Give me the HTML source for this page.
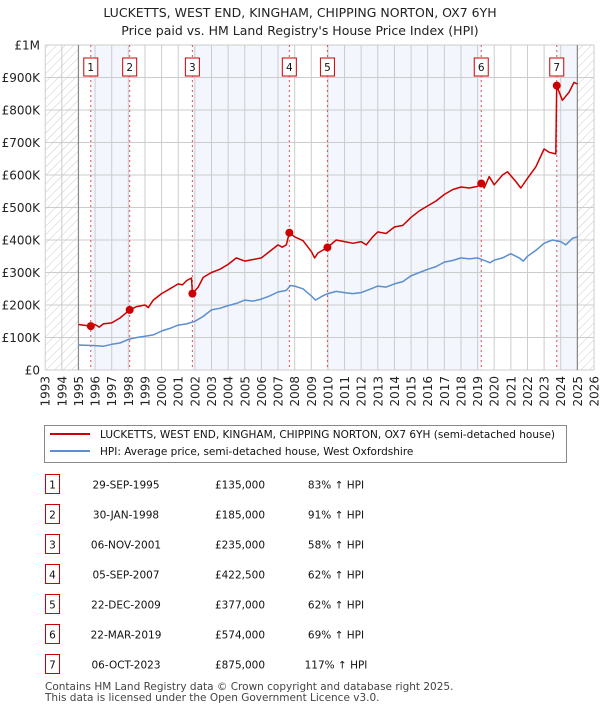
<!DOCTYPE html>
<html><head><meta charset="utf-8"><style>
body{margin:0;background:#fff;}
svg text{font-family:"DejaVu Sans","Liberation Sans",sans-serif;}
</style></head><body>
<svg id="c" width="600" height="710" viewBox="0 0 600 710" xmlns="http://www.w3.org/2000/svg">
<defs>
<pattern id="hatch" width="6" height="6" patternUnits="userSpaceOnUse" patternTransform="rotate(45)">
<line x1="0" y1="0" x2="0" y2="6" stroke="#ccc" stroke-width="1"/></pattern>
</defs>
<text x="300" y="17" text-anchor="middle" font-size="12.5" fill="#222">LUCKETTS, WEST END, KINGHAM, CHIPPING NORTON, OX7 6YH</text>
<text x="300" y="35" text-anchor="middle" font-size="12.5" fill="#222">Price paid vs. HM Land Registry's House Price Index (HPI)</text>
<g id="plot"></g>
<g id="legend">
<rect x="44.5" y="425.5" width="522" height="37" fill="#fff" stroke="#888"/>
<line x1="50" y1="434" x2="90" y2="434" stroke="#cc0000" stroke-width="2"/>
<text x="100" y="438" font-size="10.5" fill="#111">LUCKETTS, WEST END, KINGHAM, CHIPPING NORTON, OX7 6YH (semi-detached house)</text>
<line x1="50" y1="451" x2="90" y2="451" stroke="#5b8fd0" stroke-width="2"/>
<text x="100" y="455" font-size="10.5" fill="#111">HPI: Average price, semi-detached house, West Oxfordshire</text>
</g>
<g id="table"></g>
<text x="45" y="690" font-size="10.5" fill="#444">Contains HM Land Registry data © Crown copyright and database right 2025.</text>
<text x="45" y="701" font-size="10.5" fill="#444">This data is licensed under the Open Government Licence v3.0.</text>
</svg>
<script>
const yearTicks=[1993,1994,1995,1996,1997,1998,1999,2000,2001,2002,2003,2004,2005,2006,2007,2008,2009,2010,2011,2012,2013,2014,2015,2016,2017,2018,2019,2020,2021,2022,2023,2024,2025,2026];
const valueTicks=[0,100,200,300,400,500,600,700,800,900,1000];
const valueTickLabels=["£0","£100K","£200K","£300K","£400K","£500K","£600K","£700K","£800K","£900K","£1M"];
const saleLabels=["1","2","3","4","5","6","7"];
const saleYears=[1995.74,1998.08,2001.85,2007.68,2009.97,2019.22,2023.76];
const saleValues=[135,185,235,422.5,377,574,875];
const saleDates=["29-SEP-1995","30-JAN-1998","06-NOV-2001","05-SEP-2007","22-DEC-2009","22-MAR-2019","06-OCT-2023"];
const salePrices=["£135,000","£185,000","£235,000","£422,500","£377,000","£574,000","£875,000"];
const saleHpi=["83% ↑ HPI","91% ↑ HPI","58% ↑ HPI","62% ↑ HPI","62% ↑ HPI","69% ↑ HPI","117% ↑ HPI"];
const hpiYears=[1995,1996,1996.5,1997,1997.5,1998,1998.5,1999,1999.5,2000,2000.5,2001,2001.5,2002,2002.5,2003,2003.5,2004,2004.5,2005,2005.5,2006,2006.5,2007,2007.5,2007.75,2008,2008.5,2009,2009.25,2009.75,2010,2010.5,2011,2011.5,2012,2012.5,2013,2013.5,2014,2014.5,2015,2015.5,2016,2016.5,2017,2017.5,2018,2018.5,2019,2019.5,2019.75,2020,2020.5,2021,2021.5,2021.75,2022,2022.5,2023,2023.5,2024,2024.3,2024.7,2025];
const hpiValues=[77,75,73,79,83,94,100,104,108,120,128,138,142,150,165,185,190,198,205,215,212,218,228,240,245,260,258,250,228,215,230,235,242,238,235,238,248,258,255,265,272,290,300,310,318,332,337,345,342,345,335,330,338,345,358,345,335,350,368,390,400,395,385,405,410];
const priceYears=[1995,1995.74,1996,1996.25,1996.5,1997,1997.5,1998.08,1998.5,1999,1999.2,1999.5,2000,2000.5,2001,2001.25,2001.5,2001.8,2001.85,2002.2,2002.5,2003,2003.5,2004,2004.5,2005,2005.5,2006,2006.5,2007,2007.25,2007.5,2007.68,2008,2008.5,2009,2009.2,2009.4,2009.97,2010.5,2011,2011.5,2012,2012.3,2012.7,2013,2013.5,2014,2014.5,2015,2015.5,2016,2016.5,2017,2017.5,2018,2018.5,2019,2019.22,2019.4,2019.7,2020,2020.5,2020.8,2021.3,2021.6,2022,2022.5,2023,2023.3,2023.7,2023.76,2024.1,2024.5,2024.8,2025];
const priceValues=[140,135,140,132,142,145,160,185,195,200,192,215,235,250,265,262,275,283,235,255,285,300,310,325,345,335,340,345,365,385,378,385,422,410,398,365,345,360,377,400,395,390,395,385,410,425,420,440,445,470,490,505,520,540,555,563,560,565,574,560,595,570,600,610,580,560,590,625,680,670,665,875,830,855,885,880];

const NS="http://www.w3.org/2000/svg";
const plot=document.getElementById('plot');
const X0=45.2,X1=594,Y0=370,Y1=45;
const xs=y=>X0+(y-1993)*(X1-X0)/33;
const ys=v=>Y0-v*(Y0-Y1)/1000;
function mk(tag,attrs,parent){const e=document.createElementNS(NS,tag);for(const k in attrs)e.setAttribute(k,attrs[k]);(parent||plot).appendChild(e);return e;}

for(let i=0;i<saleYears.length;i+=2){
  const a=saleYears[i],b=i+1<saleYears.length?saleYears[i+1]:2025;
  const r=mk('rect',{x:xs(a),y:Y1,width:xs(b)-xs(a),height:Y0-Y1,fill:'#f3f6fd'});
  
  
}
const h1=mk('rect',{x:xs(1993),y:Y1,width:xs(1995)-xs(1993),height:Y0-Y1,fill:'url(#hatch)'});


const h2=mk('rect',{x:xs(2025),y:Y1,width:xs(2026)-xs(2025),height:Y0-Y1,fill:'url(#hatch)'});


yearTicks.forEach(y=>{
  const l=mk('line',{x1:xs(y),x2:xs(y),y1:Y1,y2:Y0,stroke:'#ccc','stroke-width':1});
  
  
  const t=mk('text',{x:0,y:0,'font-size':12,fill:'#222','text-anchor':'end',transform:`translate(${xs(y)+4.5},${Y0+6}) rotate(-90)`});
  t.textContent=y;
  
  
});
valueTicks.forEach((v,i)=>{
  const l=mk('line',{x1:X0,x2:X1,y1:ys(v),y2:ys(v),stroke:'#ccc','stroke-width':1});
  
  
  const t=mk('text',{x:40,y:ys(v)+4.5,'font-size':12,fill:'#222','text-anchor':'end'});
  t.textContent=valueTickLabels[i];
  
  
});
[1995,2025].forEach(y=>{
  const l=mk('line',{x1:xs(y),x2:xs(y),y1:Y1,y2:Y0,stroke:'#888','stroke-width':1.2});
  
  
});
saleYears.forEach((y,i)=>{
  const l=mk('line',{x1:xs(y),x2:xs(y),y1:Y1,y2:Y0,stroke:'#e05050','stroke-width':1,'stroke-dasharray':'2,3'});
  
  
  const r=mk('rect',{x:xs(y)-7,y:58,width:14,height:18,fill:'#fff',stroke:'#cc0000','stroke-width':1});
  
  
  const t=mk('text',{x:xs(y),y:71,'font-size':10.5,'text-anchor':'middle',fill:'#111'});
  t.textContent=saleLabels[i];
  
  
});
function line(xa,va,color,name){
  const d=xa.map((y,i)=>(i?'L':'M')+xs(y).toFixed(1)+','+ys(va[i]).toFixed(1)).join('');
  const p=mk('path',{d:d,fill:'none',stroke:color,'stroke-width':1.5,'stroke-linejoin':'round'});
  
  
}
line(hpiYears,hpiValues,'#5b8fd0','hpi-line');
line(priceYears,priceValues,'#cc0000','price-paid-line');
saleYears.forEach((y,i)=>{
  const c=mk('circle',{cx:xs(y),cy:ys(saleValues[i]),r:4,fill:'#cc0000'});
  
  
});
const tb=document.getElementById('table');
saleLabels.forEach((s,i)=>{
  const yy=485+i*30;
  const r=mk('rect',{x:45.5,y:yy-10.5,width:14,height:19,fill:'#fff',stroke:'#cc0000','stroke-width':1},tb);
  
  
  const cols=[[52.5,s,'middle'],[126,saleDates[i],'middle'],[240,salePrices[i],'middle'],[336,saleHpi[i],'middle']];
  cols.forEach((c,j)=>{
    const t=mk('text',{x:c[0],y:yy+3.5,'font-size':10.5,fill:'#111','text-anchor':c[2]},tb);
    t.textContent=c[1];
    
    
  });
});
</script>
</body></html>
